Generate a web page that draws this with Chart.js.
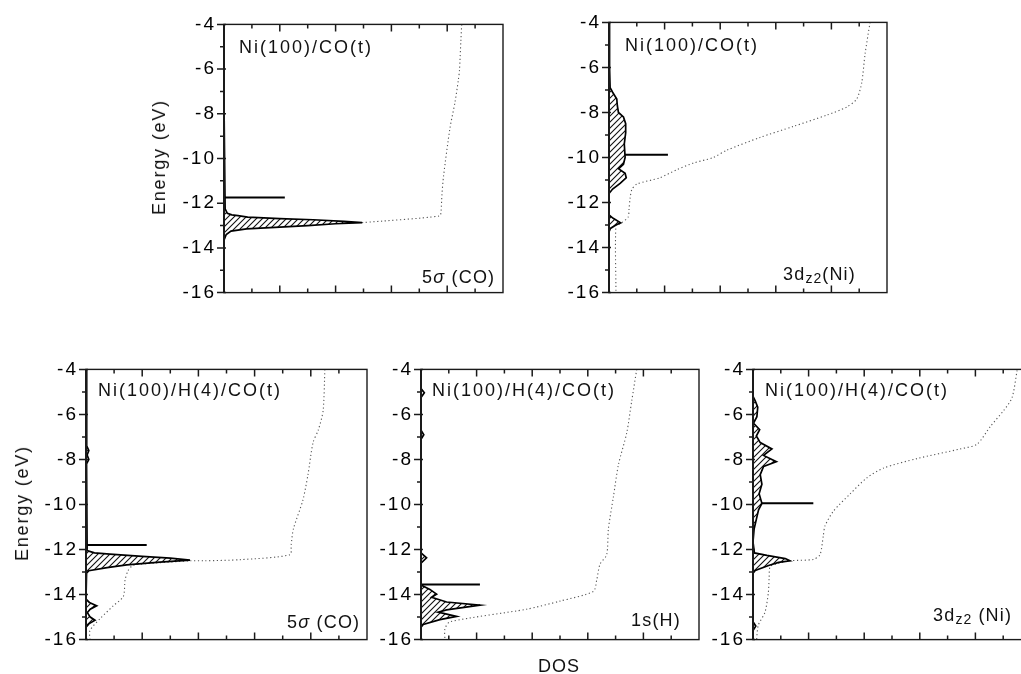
<!DOCTYPE html>
<html><head><meta charset="utf-8">
<script src="https://cdn.jsdelivr.net/npm/chart.js@4.4.1/dist/chart.umd.min.js"></script>
<style>
html,body{margin:0;padding:0;background:#fff;width:1021px;height:674px;overflow:hidden;position:relative;font-family:"Liberation Sans",Arial,sans-serif;color:#111}
canvas{position:absolute}
.t{position:absolute;font-size:18px;letter-spacing:2px;line-height:1;transform:translateY(-50%);white-space:nowrap}
.s{position:absolute;font-size:18px;letter-spacing:1.2px;line-height:1;transform:translateY(-50%);white-space:nowrap}
.s sub{font-size:14px;vertical-align:-3px;letter-spacing:1px}
.r{position:absolute;font-size:18px;letter-spacing:1.8px;line-height:1;white-space:nowrap;transform:translate(-50%,-50%) rotate(-90deg)}
.c{position:absolute;font-size:18px;letter-spacing:1px;line-height:1;white-space:nowrap;transform:translate(-50%,-50%)}
</style></head><body>
<script>
// ---------- data (energy in eV, DOS in arbitrary units 0..10) ----------
const yTickValues = [-16,-15,-14,-13,-12,-11,-10,-9,-8,-7,-6,-5,-4];
const yTickLabels = ['-16','','-14','','-12','','-10','','-8','','-6','','-4'];

// Panel 1: Ni(100)/CO(t), 5sigma(CO)
const p1E = [-4,-7.5,-12.25,-12.45,-12.52,-12.56,-12.62,-12.69,-12.74,-12.81,-12.87,-12.92,-13.0,-13.07,-13.15,-13.25,-13.4,-13.65,-16];
const p1D = [0,0,0.04,0.12,0.28,0.5,0.85,2.0,3.2,4.3,4.95,4.0,3.0,2.0,0.81,0.25,0.08,0,0];
const p1IntE = [-12.87,-12.57,-12.35,-11.64,-10.78,-8.63,-7.48,-6.48,-6.05,-4.72,-4.0];
const p1IntD = [4.95,7.73,7.78,7.81,7.87,8.1,8.28,8.4,8.44,8.49,8.52];
const p1Level = {E:-11.75, D:2.18};

// Panel 2: Ni(100)/CO(t), 3dz2(Ni)
const p2E = [-4,-6.0,-6.9,-7.1,-7.4,-7.7,-8.0,-8.2,-8.5,-8.9,-9.4,-10.0,-10.3,-10.5,-10.7,-10.9,-11.15,-11.4,-11.6,-12.55,-12.7,-12.9,-13.0,-13.15,-13.3,-16];
const p2D = [0,0.02,0.04,0.13,0.28,0.3,0.34,0.52,0.6,0.6,0.55,0.58,0.52,0.34,0.58,0.62,0.4,0.13,0,0,0.15,0.42,0.25,0.05,0,0];
const p2IntE = [-4.0,-5.41,-6.69,-7.4,-7.76,-8.12,-8.62,-9.11,-9.68,-10.0,-10.25,-10.54,-10.9,-11.18,-11.43,-11.8,-12.3,-12.64,-12.93,-13.02,-16];
const p2IntD = [9.39,9.21,9.09,8.91,8.55,7.83,6.63,5.43,4.23,3.75,3.03,2.44,1.83,1.0,0.82,0.76,0.72,0.69,0.42,0.25,0.25];
const p2Level = {E:-9.88, D:2.12};

// Panel 3: Ni(100)/H(4)/CO(t), 5sigma(CO)
const p3E = [-4,-5.5,-7.4,-7.6,-7.8,-8.0,-8.2,-12.05,-12.15,-12.2,-12.3,-12.38,-12.47,-12.56,-12.68,-12.8,-12.94,-13.05,-14.2,-14.35,-14.5,-14.65,-14.8,-15.0,-15.14,-15.3,-15.45,-16];
const p3D = [0,0.02,0.03,0.1,0.04,0.1,0.02,0.04,0.3,0.85,2.0,3.0,3.7,2.63,1.45,0.75,0.1,0.02,0,0.12,0.38,0.15,0.05,0.15,0.32,0.1,0,0];
const p3IntE = [-4.0,-5.82,-6.68,-7.25,-8.67,-9.8,-11.09,-11.8,-12.23,-12.45,-12.5,-12.5,-12.6,-12.7,-12.93,-13.36,-14.08,-14.5,-15.07,-15.6,-16];
const p3IntD = [8.5,8.44,8.27,8.08,7.9,7.72,7.38,7.3,7.26,5.5,4.2,3.7,2.5,1.68,1.5,1.39,1.33,0.97,0.5,0.14,0.14];
const p3Level = {E:-11.8, D:2.16};

// Panel 4: Ni(100)/H(4)/CO(t), 1s(H)
const p4E = [-4,-4.85,-5.04,-5.25,-6.7,-6.9,-7.1,-12.15,-12.37,-12.6,-13.58,-13.77,-13.98,-14.12,-14.33,-14.47,-14.68,-14.78,-14.97,-15.11,-15.33,-15.45,-16];
const p4D = [0,0,0.12,0,0,0.1,0,0,0.2,0,0,0.32,0.56,0.38,0.92,2.12,0.92,0.62,1.28,0.68,0.08,0,0];
const p4IntE = [-4.0,-5.4,-6.82,-8.24,-9.67,-11.09,-12.23,-12.65,-13.36,-13.86,-14.29,-14.65,-15.21,-15.53,-16];
const p4IntD = [7.76,7.58,7.4,7.1,6.92,6.74,6.68,6.44,6.32,6.2,5.0,3.8,1.04,0.86,0.86];
const p4Level = {E:-13.55, D:2.12};

// Panel 5: Ni(100)/H(4)/CO(t), 3dz2(Ni)
const p5E = [-4,-5.2,-5.4,-5.68,-6.1,-6.39,-6.68,-6.96,-7.25,-7.53,-7.82,-8.1,-8.31,-8.67,-9.1,-9.52,-9.95,-10.24,-10.66,-11.09,-11.66,-12.15,-12.26,-12.4,-12.5,-12.57,-12.71,-12.93,-13.05,-15.2,-15.4,-15.6,-16];
const p5D = [0,0,0.08,0.17,0.14,0.02,0.24,0.12,0.26,0.68,0.38,0.84,0.38,0.26,0.32,0.22,0.32,0.2,0.12,0.04,0,0.05,0.5,1.16,1.33,0.92,0.56,0.08,0,0,0.1,0,0];
const p5IntE = [-4.04,-5.25,-5.82,-6.53,-7.32,-7.53,-7.96,-8.38,-8.81,-9.52,-10.3,-10.95,-11.38,-12.23,-12.44,-12.5,-12.62,-12.75,-13.3,-13.94,-14.79,-15.36,-16];
const p5IntD = [9.5,9.32,9.02,8.54,8.06,7.46,5.9,4.7,4.1,3.5,2.89,2.59,2.53,2.41,2.17,1.33,0.9,0.62,0.58,0.55,0.43,0.19,0.13];
const p5Level = {E:-9.95, D:2.17};

const titles = ['Ni(100)/CO(t)','Ni(100)/CO(t)','Ni(100)/H(4)/CO(t)','Ni(100)/H(4)/CO(t)','Ni(100)/H(4)/CO(t)'];
const subLabels = ['5<i>σ</i> (CO)','3d<sub>z2</sub>(Ni)','5<i>σ</i> (CO)','1s(H)','3d<sub>z2</sub> (Ni)'];
const yTitle = 'Energy  (eV)';
const xTitle = 'DOS';

// ---------- layout (page pixels) ----------
const PAD_L = 60, PAD_T = 14, PAD_R = 10, PAD_B = 14;
const panels = [
  {area:[224,19,503,298], E:p1E, D:p1D, iE:p1IntE, iD:p1IntD, lev:p1Level, tp:[239,47], sp:[422,277]},
  {area:[609,17,887,298], E:p2E, D:p2D, iE:p2IntE, iD:p2IntD, lev:p2Level, tp:[625,45], sp:[783,275]},
  {area:[86,364,367,645], E:p3E, D:p3D, iE:p3IntE, iD:p3IntD, lev:p3Level, tp:[98,390], sp:[287,622]},
  {area:[421,364,699,645], E:p4E, D:p4D, iE:p4IntE, iD:p4IntD, lev:p4Level, tp:[432,390], sp:[631,620]},
  {area:[753,364,1031,645], E:p5E, D:p5D, iE:p5IntE, iD:p5IntD, lev:p5Level, tp:[765,390], sp:[933,616]}
];

function hatch(ctx){
  const pc = document.createElement('canvas'); pc.width = 6; pc.height = 6;
  const g = pc.getContext('2d');
  g.fillStyle = '#fff'; g.fillRect(0,0,6,6);
  g.strokeStyle = '#111'; g.lineWidth = 1.1;
  g.beginPath();
  g.moveTo(0,6); g.lineTo(6,0);
  g.moveTo(-1,1); g.lineTo(1,-1);
  g.moveTo(5,7); g.lineTo(7,5);
  g.stroke();
  return ctx.createPattern(pc,'repeat');
}

const frame = {
  id:'frame',
  beforeDraw(c){ c.ctx.letterSpacing = '2px'; },
  afterDatasetsDraw(c){
    const {ctx, chartArea:a, scales:{x,y}} = c;
    ctx.save();
    ctx.strokeStyle = '#1a1a1a';
    ctx.lineWidth = 1.4;
    ctx.strokeRect(a.left, a.top, a.right-a.left, a.bottom-a.top);
    ctx.lineWidth = 2;
    ctx.beginPath(); ctx.moveTo(a.left, a.top); ctx.lineTo(a.left, a.bottom); ctx.stroke();
    ctx.lineWidth = 1.5;
    ctx.beginPath();
    yTickValues.forEach(v => {
      const py = y.getPixelForValue(v);
      const major = v % 2 === 0;
      ctx.moveTo(a.left-(major?7:4), py); ctx.lineTo(a.left+(major?2:1), py);
    });
    for (let i = 1; i < 10; i++){
      const px = x.getPixelForValue(i);
      const L = i % 2 === 0 ? 7 : 4;
      ctx.moveTo(px, a.bottom); ctx.lineTo(px, a.bottom-L);
      ctx.moveTo(px, a.top); ctx.lineTo(px, a.top+L);
    }
    ctx.stroke();
    ctx.restore();
  }
};

function addDiv(cls, html, x, y){
  const d = document.createElement('div');
  d.className = cls; d.innerHTML = html;
  d.style.left = x+'px'; d.style.top = y+'px';
  document.body.appendChild(d);
}

panels.forEach((p, k) => {
  const [l,t,r,b] = p.area;
  const w = PAD_L + (r-l) + PAD_R, h = PAD_T + (b-t) + PAD_B;
  const cv = document.createElement('canvas');
  cv.width = w; cv.height = h;
  cv.style.width = w+'px'; cv.style.height = h+'px';
  cv.style.left = (l-PAD_L)+'px'; cv.style.top = (t-PAD_T)+'px';
  document.body.appendChild(cv);
  const pat = hatch(cv.getContext('2d'));
  new Chart(cv, {
    type:'line',
    data:{datasets:[
      {data:p.E.map((e,i)=>({x:p.D[i], y:e})), borderColor:'#000', borderWidth:1.7, backgroundColor:pat,
       fill:'origin', pointRadius:0, tension:0},
      {data:p.iE.map((e,i)=>({x:p.iD[i], y:e})), borderColor:'#555', borderWidth:1.1, borderDash:[1.2,2.6],
       fill:false, pointRadius:0, tension:0.25},
      {data:[{x:0, y:p.lev.E},{x:p.lev.D, y:p.lev.E}], borderColor:'#000', borderWidth:2, fill:false, pointRadius:0}
    ]},
    options:{
      indexAxis:'y', responsive:false, animation:false, events:[],
      layout:{padding:{left:0, top:PAD_T, right:PAD_R, bottom:PAD_B}},
      plugins:{legend:{display:false}, tooltip:{enabled:false}},
      scales:{
        x:{type:'linear', min:0, max:10, display:false},
        y:{type:'linear', min:-16, max:-4, position:'left',
           afterFit(s){ s.width = PAD_L; },
           afterBuildTicks(s){ s.ticks = yTickValues.map(v=>({value:v})); },
           ticks:{autoSkip:false, padding:8, color:'#000',
                  font:{family:'"Liberation Sans", Arial, sans-serif', size:19},
                  callback:(v)=> yTickLabels[yTickValues.indexOf(v)] ?? ''},
           grid:{display:false, drawTicks:false}, border:{display:false}}
      }
    },
    plugins:[frame]
  });
  addDiv('t', titles[k], p.tp[0], p.tp[1]);
  addDiv('s', subLabels[k], p.sp[0], p.sp[1]);
});

addDiv('r', yTitle, 159, 157);
addDiv('r', yTitle, 22, 503);
addDiv('c', xTitle, 559, 666);
</script>
</body></html>
